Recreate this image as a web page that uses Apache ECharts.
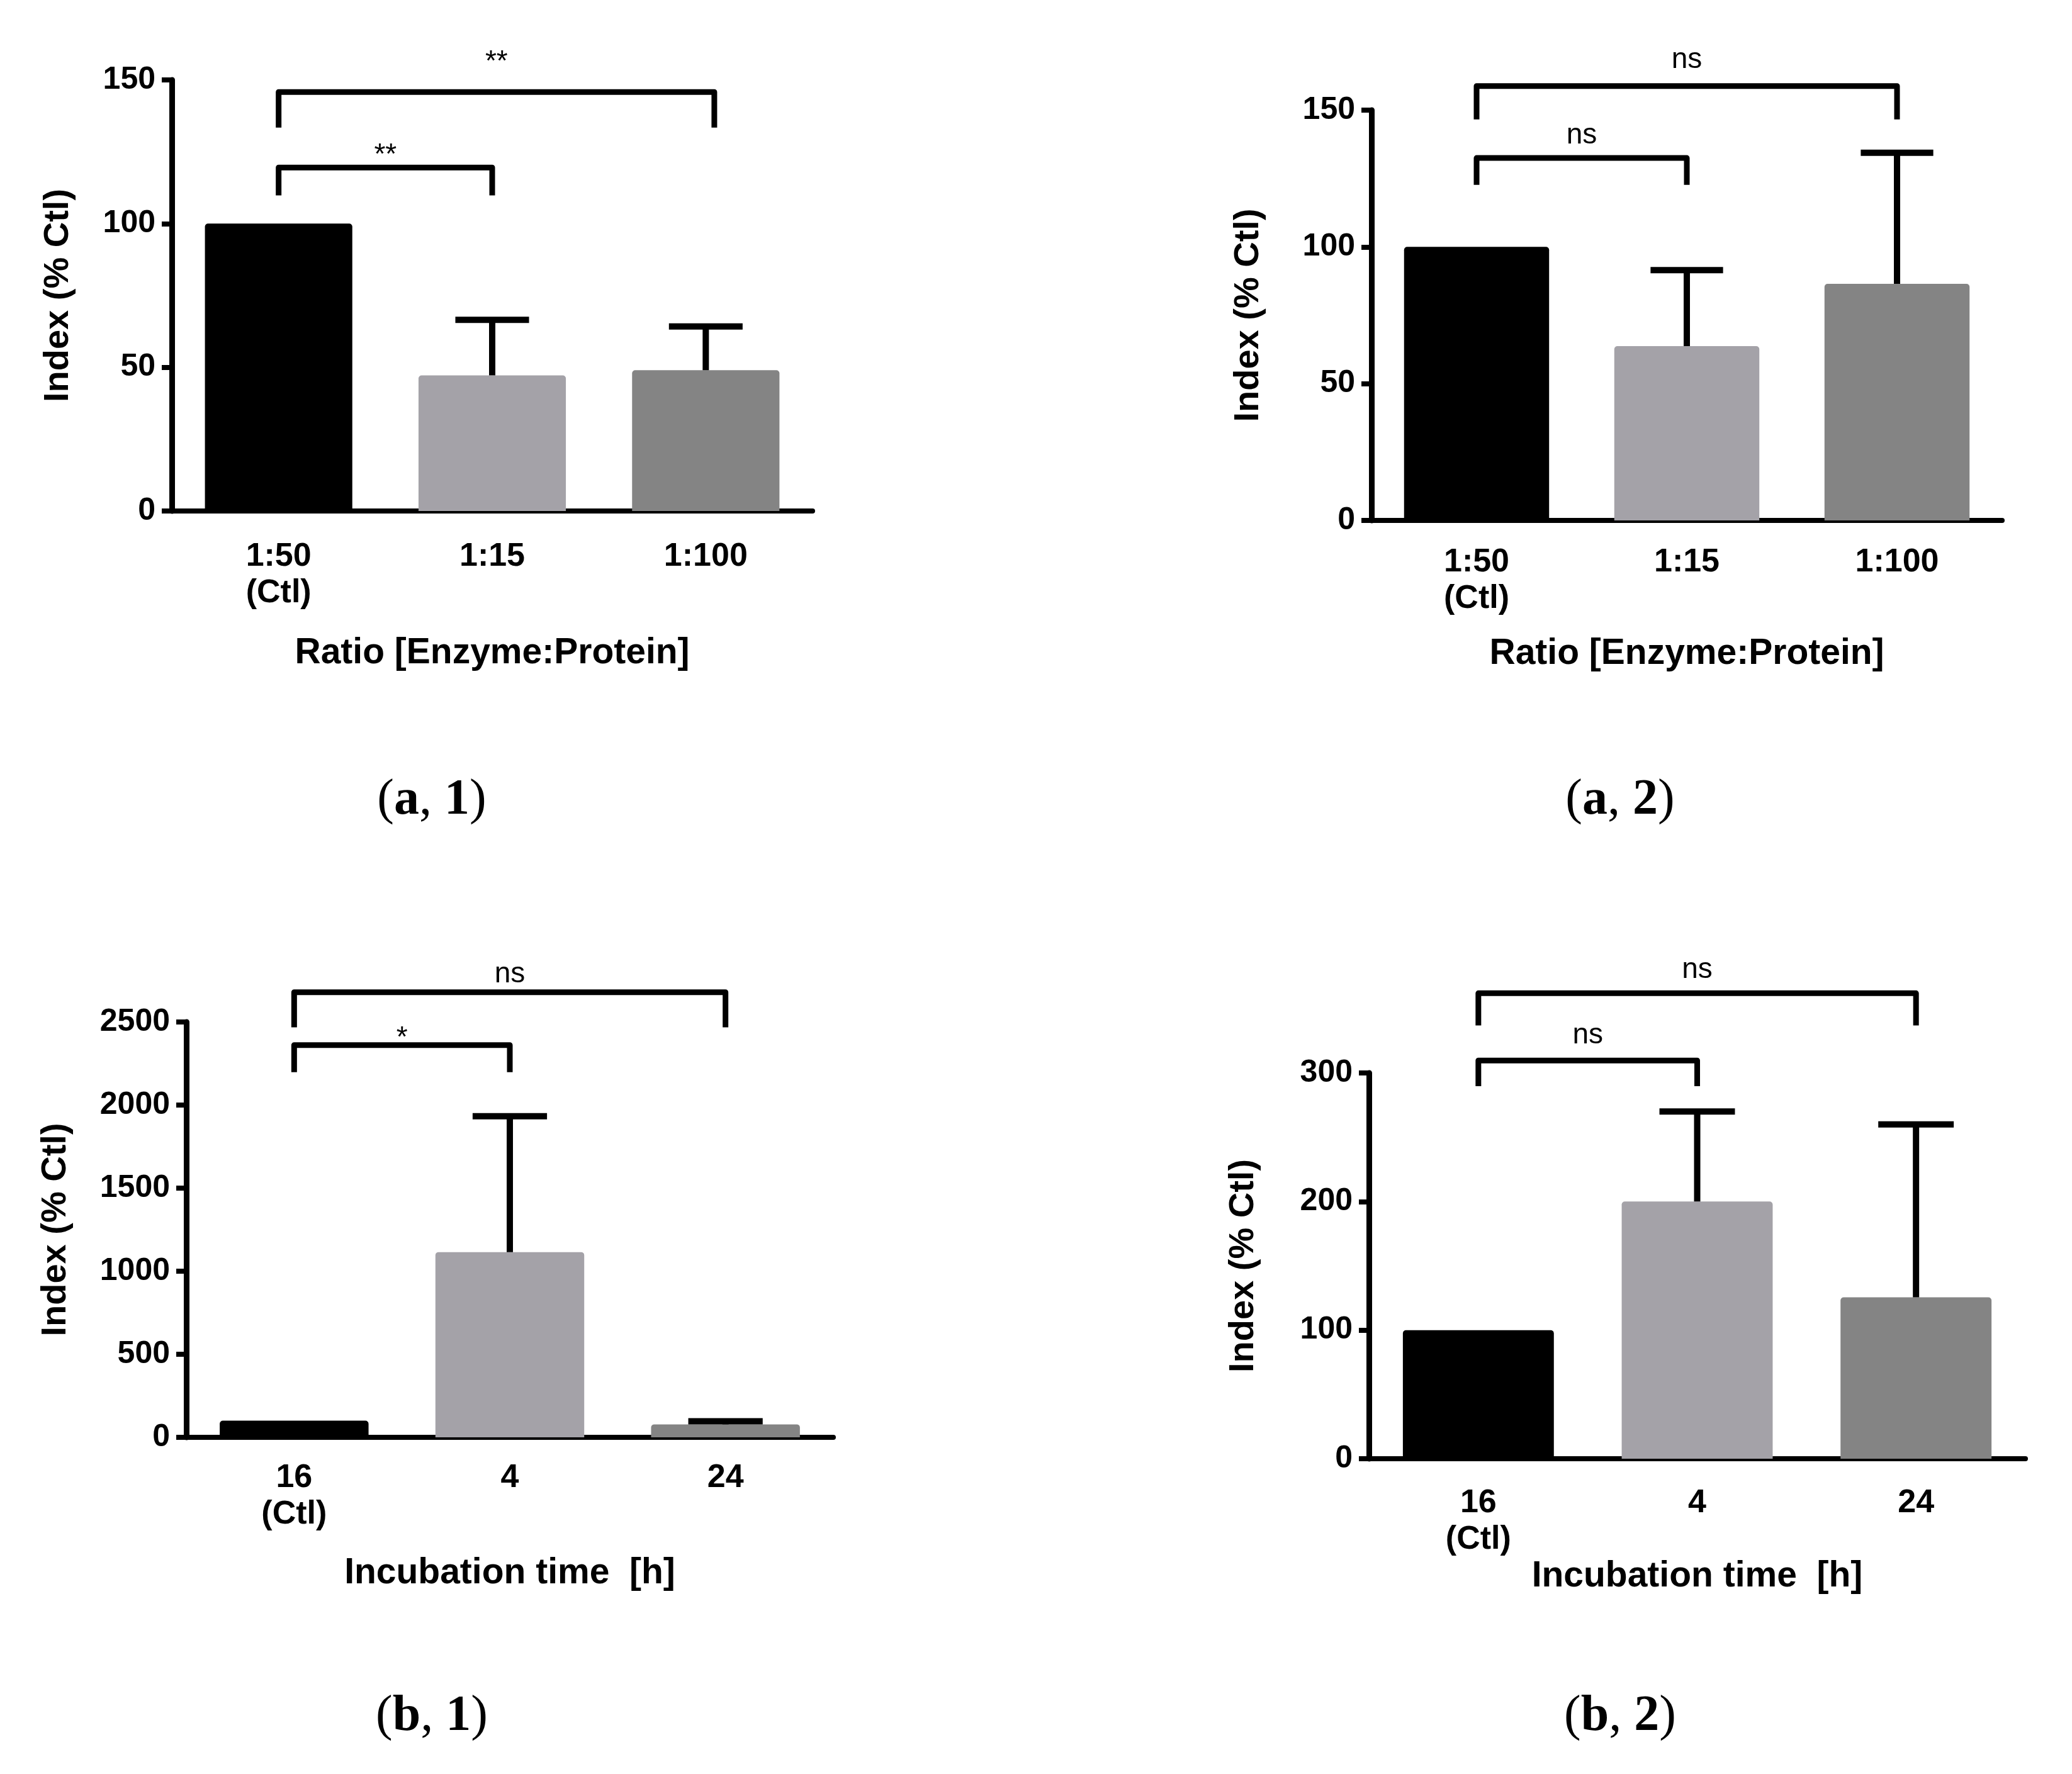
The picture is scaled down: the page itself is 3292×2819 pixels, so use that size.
<!DOCTYPE html>
<html lang="en">
<head>
<meta charset="UTF-8">
<title>Index (% Ctl)</title>
<script src="https://cdn.jsdelivr.net/npm/echarts@6/dist/echarts.min.js"></script>
<style>
  html, body { margin: 0; padding: 0; background: #fff; }
  #chart { width: 3292px; height: 2819px; }
</style>
</head>
<body>
<div id="chart"></div>
<script>
// categories
var catsA = ['1:50\n(Ctl)', '1:15', '1:100'];
var catsB = ['16\n(Ctl)', '4', '24'];

// bar heights and top of error bars (null = no error bar)
var meanA1 = [100, 47.2, 49.0];
var upperA1 = [null, 66.5, 64.2];
var meanA2 = [100, 63.7, 86.5];
var upperA2 = [null, 91.5, 134.4];
var meanB1 = [100, 1115, 78];
var upperB1 = [null, 1933, 97];
var meanB2 = [100, 200, 125.5];
var upperB2 = [null, 270, 260];

// y ticks
var ticksA = [0, 50, 100, 150];
var ticksB1 = [0, 500, 1000, 1500, 2000, 2500];
var ticksB2 = [0, 100, 200, 300];

// significance brackets: [from, to, bar level, leg end, label level, label]
var bracketsA1 = [[0, 1, 119.5, 109.8, 126.8, '**'], [0, 2.04, 145.8, 133.4, 159.2, '**']];
var bracketsA2 = [[0, 1, 132.5, 122.7, 140.8, 'ns'], [0, 2, 158.8, 146.6, 168.4, 'ns']];
var bracketsB1 = [[0, 1, 2361, 2198, 2455, '*'], [0, 2, 2679, 2468, 2788, 'ns']];
var bracketsB2 = [[0, 1, 309.7, 289.7, 329, 'ns'], [0, 2, 362, 337, 380, 'ns']];

var barColors = ['#000000', '#a4a2a8', '#848484'];
var sans = '"Liberation Sans", Arial, sans-serif';

var chart = echarts.init(document.getElementById('chart'), null, { renderer: 'canvas' });

// panel boxes (pixels)
var panels = [
    { grid: { left: 273, top: 127, width: 1018, height: 685 }, cats: catsA, ticks: ticksA,
      mean: meanA1, upper: upperA1, brackets: bracketsA1, xname: 'Ratio [Enzyme:Protein]',
      xgap: 198, ygap: 152, lblMargin: 44 },
    { grid: { left: 2179, top: 175, width: 1002, height: 652 }, cats: catsA, ticks: ticksA,
      mean: meanA2, upper: upperA2, brackets: bracketsA2, xname: 'Ratio [Enzyme:Protein]',
      xgap: 184, ygap: 167, lblMargin: 38 },
    { grid: { left: 296, top: 1624, width: 1028, height: 660 }, cats: catsB, ticks: ticksB1,
      mean: meanB1, upper: upperB1, brackets: bracketsB1, xname: 'Incubation time  [h]',
      xgap: 188, ygap: 179, lblMargin: 36 },
    { grid: { left: 2175, top: 1705, width: 1043, height: 613 }, cats: catsB, ticks: ticksB2,
      mean: meanB2, upper: upperB2, brackets: bracketsB2, xname: 'Incubation time  [h]',
      xgap: 154, ygap: 171, lblMargin: 42 }
];

var grids = [], xAxes = [], yAxes = [], series = [];

// x pixel of a (possibly fractional) category position
function catX(api, c, v) {
    var k = Math.round(c);
    return api.coord([k, v])[0] + (c - k) * api.size([1, 0])[0];
}

panels.forEach(function (p, i) {
    grids.push(p.grid);
    xAxes.push({
        type: 'category', gridIndex: i, data: p.cats,
        name: p.xname, nameLocation: 'middle', nameGap: p.xgap,
        nameTextStyle: { fontFamily: sans, fontWeight: 'bold', fontSize: 57, color: '#000' },
        axisLine: { lineStyle: { color: '#000', width: 8 } },
        axisTick: { alignWithLabel: true, length: 20, lineStyle: { color: '#000', width: 8 } },
        axisLabel: { fontFamily: sans, fontWeight: 'bold', fontSize: 52, lineHeight: 58,
                     color: '#000', margin: p.lblMargin }
    });
    yAxes.push({
        type: 'value', gridIndex: i,
        min: p.ticks[0], max: p.ticks[p.ticks.length - 1], interval: p.ticks[1] - p.ticks[0],
        name: 'Index (% Ctl)', nameLocation: 'middle', nameGap: p.ygap,
        nameTextStyle: { fontFamily: sans, fontWeight: 'bold', fontSize: 56, color: '#000' },
        splitLine: { show: false },
        axisLine: { show: true, lineStyle: { color: '#000', width: 9 } },
        axisTick: { show: true, length: 16, lineStyle: { color: '#000', width: 8 } },
        axisLabel: { fontFamily: sans, fontWeight: 'bold', fontSize: 50, color: '#000', margin: 26,
                     formatter: function (v) { return String(v); } }
    });

    series.push({
        type: 'bar', xAxisIndex: i, yAxisIndex: i, barWidth: '69%', z: 2,
        data: p.mean.map(function (v, k) {
            return { value: v, itemStyle: { color: barColors[k], borderRadius: [5, 5, 0, 0] } };
        })
    });

    var errData = [];
    p.upper.forEach(function (u, k) { if (u != null) errData.push([k, p.mean[k], u]); });
    series.push({
        type: 'custom', xAxisIndex: i, yAxisIndex: i, z: 3, clip: false,
        data: errData,
        renderItem: function (params, api) {
            var k = api.value(0);
            var a = api.coord([k, api.value(1)]);
            var b = api.coord([k, api.value(2)]);
            var half = api.size([1, 0])[0] * 0.69 * 0.25;
            var st = { stroke: '#000', lineWidth: 10 };
            return { type: 'group', children: [
                { type: 'line', shape: { x1: a[0], y1: a[1], x2: b[0], y2: b[1] + 4 }, style: st },
                { type: 'line', shape: { x1: b[0] - half, y1: b[1], x2: b[0] + half, y2: b[1] }, style: st }
            ] };
        }
    });

    var br = p.brackets;
    series.push({
        type: 'custom', xAxisIndex: i, yAxisIndex: i, z: 3, clip: false,
        data: br.map(function (d) { return [d[0], Math.round(d[1]), d[2], d[3], d[4]]; }),
        encode: { x: 0, y: 3 },
        renderItem: function (params, api) {
            var d = br[params.dataIndex];
            var yTop = api.coord([0, d[2]])[1];
            var yLeg = api.coord([0, d[3]])[1];
            var yLbl = api.coord([0, d[4]])[1];
            var x1 = catX(api, d[0], d[2]);
            var x2 = catX(api, d[1], d[2]);
            var txt = d[5];
            // asterisks sit high in the em box, so push them down a little
            var dy = txt.indexOf('*') >= 0 ? 14 : 0;
            return { type: 'group', children: [
                { type: 'polyline',
                  shape: { points: [[x1, yLeg], [x1, yTop], [x2, yTop], [x2, yLeg]] },
                  style: { stroke: '#000', lineWidth: 9, fill: null, lineJoin: 'round' } },
                { type: 'text', x: (x1 + x2) / 2, y: yLbl + dy,
                  style: { text: txt, font: '46px ' + sans, fill: '#000',
                           align: 'center', verticalAlign: 'middle' } }
            ] };
        }
    });
});

// panel captions
function caption(x, y, letter, num) {
    return {
        type: 'text', x: x, y: y,
        style: {
            text: '{n|(}{b|' + letter + '}{n|, }{b|' + num + '}{n|)}',
            align: 'center', verticalAlign: 'middle',
            rich: {
                n: { fontFamily: '"Liberation Serif", serif', fontSize: 80, fill: '#000' },
                b: { fontFamily: '"Liberation Serif", serif', fontSize: 80, fontWeight: 'bold', fill: '#000' }
            }
        }
    };
}

chart.setOption({
    animation: false,
    backgroundColor: '#fff',
    grid: grids,
    xAxis: xAxes,
    yAxis: yAxes,
    series: series,
    graphic: [
        caption(686, 1272, 'a', '1'),
        caption(2574, 1272, 'a', '2'),
        caption(686, 2728, 'b', '1'),
        caption(2574, 2728, 'b', '2')
    ]
});
</script>
</body>
</html>
